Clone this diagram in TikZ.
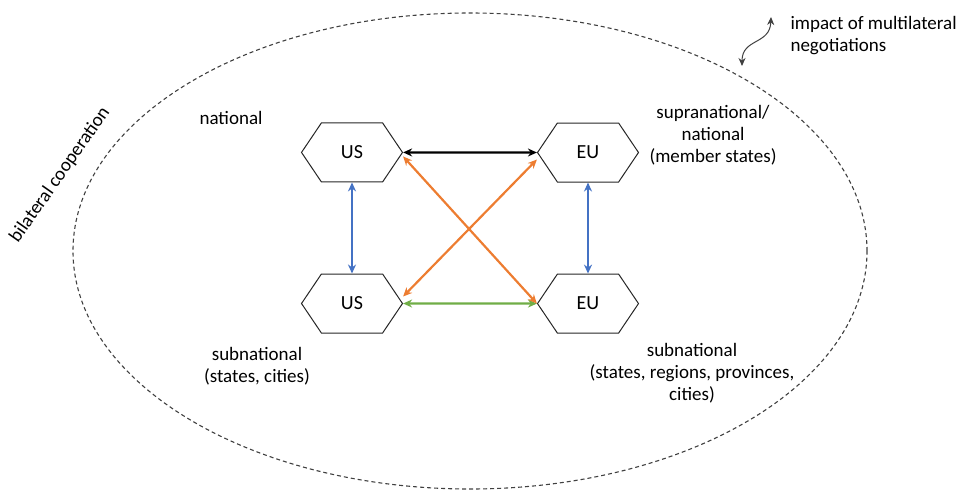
\documentclass[tikz,border=0pt]{standalone}
\usepackage{fontspec}
\setmainfont{Carlito}
\usepackage{tikz}
\usetikzlibrary{shapes,arrows.meta,positioning,matrix}

\definecolor{linkorange}{HTML}{ED7D31}
\definecolor{linkblue}{HTML}{4472C4}
\definecolor{linkgreen}{HTML}{70AD47}

\tikzset{
  hexa/.style={draw=black!85, line width=1pt, signal, signal to=west and east,
    signal pointer angle=112, minimum width=101pt, minimum height=59pt,
    inner sep=0pt, font=\fontsize{20}{23}\selectfont},
  tie/.style={{Stealth[length=9pt,width=8pt]}-{Stealth[length=9pt,width=8pt]},
    line width=2.2pt},
  lbl/.style={align=center, font=\fontsize{19}{22}\selectfont},
}

\begin{document}
\begin{tikzpicture}[x=1pt,y=-1pt]
\useasboundingbox (0,0) rectangle (976,490);
\draw[dash pattern=on 4pt off 3pt, line width=1.1pt, black!75]
  (470,251) ellipse [x radius=397pt, y radius=238pt];

\matrix[
  matrix of nodes,
  nodes={hexa},
  column sep=134pt,
  row sep=91pt,
] (m) at (470,228)
{
US & EU \\
US & EU \\
};
\draw[tie] (m-1-1.east) -- (m-1-2.west);
\draw[tie, linkgreen] (m-2-1.east) -- (m-2-2.west);
\draw[tie, linkblue] (m-1-1.south) -- (m-2-1.north);
\draw[tie, linkblue] (m-1-2.south) -- (m-2-2.north);
\draw[tie, linkorange]
  ([yshift=-4pt]m-1-1.east) -- (m-2-2.west);
\draw[tie, linkorange]
  ([yshift=7pt]m-2-1.east) -- ([yshift=-7pt]m-1-2.west);

\node[lbl] (nat) at (231,118) {national};
\node[lbl] (supra) at (713,135) {supranational/\\national\\(member states)};
\node[lbl] (subus) at (257,366) {subnational\\(states, cities)};
\node[lbl] (subeu) at (692,373) {subnational\\(states, regions, provinces,\\cities)};
\node[lbl, align=left, anchor=west] (multi) at (787,36)
  {impact of multilateral\\negotiations};
\node[lbl, rotate=55] (bilat) at (60,175) {bilateral cooperation};

\coordinate (wlow) at (742,66);
\coordinate (whigh) at (771,17);
\draw[{Stealth[length=8pt,width=7pt]}-{Stealth[length=8pt,width=7pt]},
  black!75, line width=1pt]
  (wlow) .. controls (742,38) and (770,45) .. (whigh);
\end{tikzpicture}
\end{document}
